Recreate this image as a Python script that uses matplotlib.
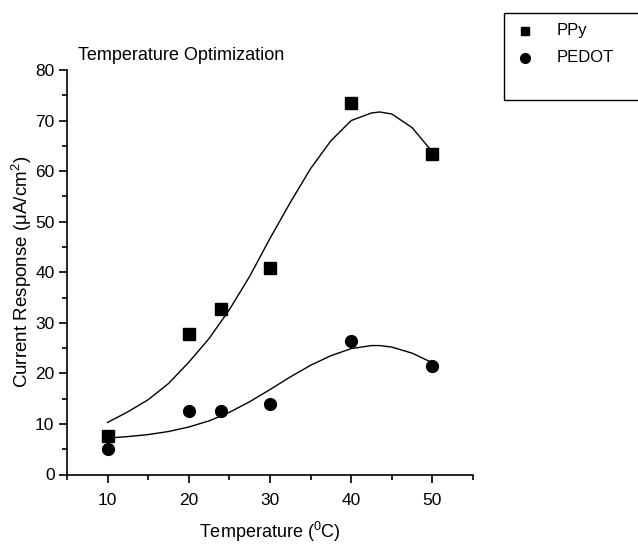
import matplotlib
matplotlib.use("Agg")
import matplotlib.pyplot as plt
from matplotlib.patches import Rectangle
from matplotlib.lines import Line2D
from matplotlib.ticker import MultipleLocator

plt.rcParams['font.family'] = ['Liberation Sans', 'DejaVu Sans']
plt.rcParams['mathtext.default'] = 'regular'

# data
temperature = [10, 20, 24, 30, 40, 50]
ppy = [7.6, 27.7, 32.7, 40.9, 73.5, 63.3]
pedot = [5.0, 12.6, 12.6, 13.9, 26.4, 21.4]

# fitted curves
fit_x = [10, 12.5, 15, 17.5, 20, 22.5, 25, 27.5, 30, 32.5, 35, 37.5, 40, 42.5, 43.5, 45, 47.5, 50]
ppy_fit = [10.3, 12.4, 14.8, 18.0, 22.2, 26.9, 32.6, 39.2, 46.7, 53.8, 60.5, 66.0, 70.0, 71.5, 71.7, 71.3, 68.6, 63.8]
pedot_fit = [7.2, 7.5, 7.9, 8.5, 9.4, 10.6, 12.3, 14.4, 16.8, 19.3, 21.6, 23.5, 24.9, 25.5, 25.5, 25.2, 24.0, 22.1]

xticks = [10, 20, 30, 40, 50]
yticks = [0, 10, 20, 30, 40, 50, 60, 70, 80]

W, H = 638, 545
fig = plt.figure(figsize=(W / 100, H / 100), dpi=100)
ax = fig.add_axes([67 / W, 1 - 474.5 / H, (473 - 67) / W, (474.5 - 70) / H])

ax.plot(fit_x, ppy_fit, color='black', lw=1.0)
ax.plot(fit_x, pedot_fit, color='black', lw=1.0)
ax.plot(temperature, ppy, linestyle='none', marker='s', ms=8, color='black')
ax.plot(temperature, pedot, linestyle='none', marker='o', ms=8.5, color='black')

ax.set_xlim(5, 55)
ax.set_ylim(0, 80)
ax.set_xticks(xticks)
ax.set_yticks(yticks)
ax.xaxis.set_minor_locator(MultipleLocator(5))
ax.yaxis.set_minor_locator(MultipleLocator(5))
ax.spines['top'].set_visible(False)
ax.spines['right'].set_visible(False)
ax.spines['left'].set_linewidth(1.2)
ax.spines['bottom'].set_linewidth(1.2)
ax.tick_params(which='major', direction='out', length=6, width=1.2, labelsize=12.5)
ax.tick_params(axis='x', which='major', pad=7)
ax.tick_params(axis='y', which='major', pad=3)
ax.tick_params(which='minor', direction='out', length=3.5, width=1.2)

ax.set_xlabel('Temperature ($^0$C)', fontsize=13, labelpad=9)
ax.set_ylabel('Current Response ($\\mu$A/cm$^2$)', fontsize=13.5, labelpad=1)

fig.text(78 / W, 1 - 60 / H, 'Temperature Optimization', fontsize=13, ha='left', va='baseline')

# legend box
fig.add_artist(Rectangle((504 / W, 1 - 100 / H), 140 / W, 87 / H, transform=fig.transFigure,
                         fill=False, edgecolor='black', lw=1.0))
fig.add_artist(Line2D([525 / W], [1 - 31 / H], marker='s', ms=6, color='black', transform=fig.transFigure))
fig.add_artist(Line2D([525 / W], [1 - 58 / H], marker='o', ms=7, color='black', transform=fig.transFigure))
fig.text(557 / W, 1 - 31 / H, 'PPy', fontsize=12, va='center', ha='left')
fig.text(557 / W, 1 - 58 / H, 'PEDOT', fontsize=12, va='center', ha='left')

fig.savefig('out.png', dpi=100)
